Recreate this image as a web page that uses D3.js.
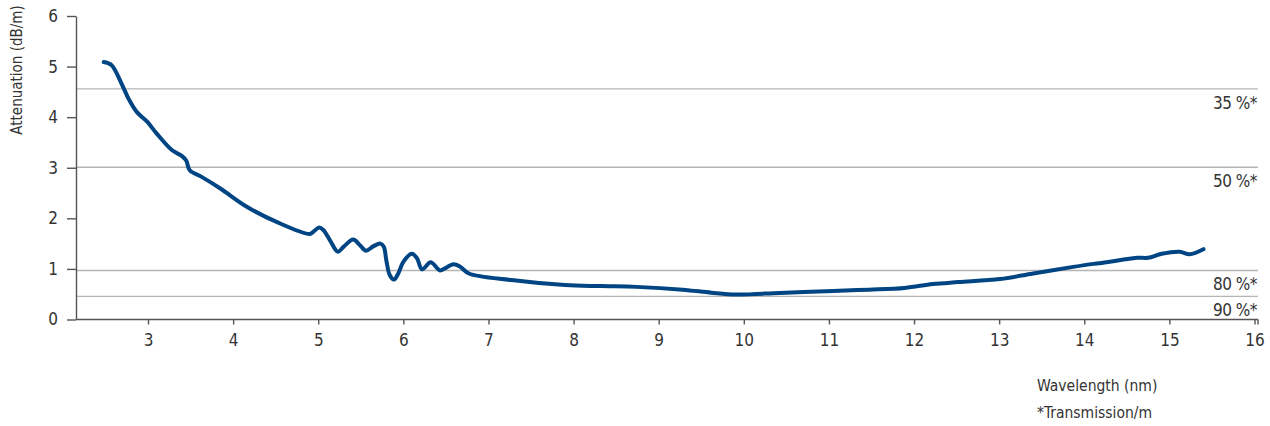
<!DOCTYPE html>
<html>
<head>
<meta charset="utf-8">
<script src="https://cdn.jsdelivr.net/npm/d3@7/dist/d3.min.js"></script>
<style>
  html, body { margin: 0; padding: 0; background: #fff; }
  svg text { font-family: "Liberation Sans Narrow", "DejaVu Sans Condensed", "Roboto Condensed", sans-serif; fill: #333; }
</style>
</head>
<body>
<svg id="chart" width="1270" height="426"></svg>
<script>
// Measured attenuation spectrum
const wavelength = [
  2.48, 2.57, 2.69, 2.77, 2.87, 2.99, 3.10, 3.28, 3.40, 3.45, 3.49, 3.63, 3.85, 4.16, 4.51,
  4.90, 4.94, 5.01, 5.06, 5.14, 5.23, 5.30, 5.41, 5.49, 5.56, 5.65, 5.73, 5.77, 5.80, 5.84,
  5.89, 5.94, 6.00, 6.10, 6.16, 6.22, 6.32, 6.40, 6.43, 6.59, 6.67, 6.77, 7.27, 7.90, 8.32,
  8.74, 9.28, 9.62, 9.91, 10.42, 11.05, 11.47, 11.89, 12.22, 12.52, 13.01, 13.40, 13.87, 14.11,
  14.30, 14.48, 14.62, 14.75, 14.91, 15.12, 15.24, 15.40
];
const attenuation = [
  5.09, 5.03, 4.66, 4.37, 4.10, 3.91, 3.68, 3.35, 3.23, 3.14, 2.95, 2.82, 2.59, 2.23, 1.93,
  1.69, 1.73, 1.82, 1.77, 1.56, 1.34, 1.44, 1.58, 1.47, 1.36, 1.45, 1.50, 1.44, 1.17, 0.88,
  0.79, 0.91, 1.14, 1.30, 1.21, 0.99, 1.13, 1.01, 0.97, 1.09, 1.04, 0.91, 0.78, 0.68, 0.66,
  0.645, 0.59, 0.53, 0.495, 0.525, 0.565, 0.59, 0.625, 0.70, 0.74, 0.80, 0.91, 1.04, 1.10,
  1.14, 1.19, 1.22, 1.22, 1.30, 1.34, 1.29, 1.39
];

// Reference transmission levels per metre
const transmission = [0.35, 0.50, 0.80, 0.90];
const transmissionLabels = ["35 %*", "50 %*", "80 %*", "90 %*"];

const xTicks = [3, 4, 5, 6, 7, 8, 9, 10, 11, 12, 13, 14, 15, 16];
const yTicks = [0, 1, 2, 3, 4, 5, 6];

const svg = d3.select("#chart");
const plotLeft = 76, plotRight = 1258, plotTop = 16, plotBottom = 319.5;

const x = d3.scaleLinear().domain([2.154, 16]).range([plotLeft, 1254.5]);
const y = d3.scaleLinear().domain([0, 6]).range([plotBottom, plotTop]);

// Attenuation in dB/m for a given transmission per metre
const toDb = t => -10 * Math.log10(t);

// Transmission reference lines
const grid = svg.append("g");
grid.selectAll("line").data(transmission).join("line")
  .attr("x1", plotLeft).attr("x2", plotRight)
  .attr("y1", d => y(toDb(d))).attr("y2", d => y(toDb(d)))
  .attr("stroke", "#b5b5b5").attr("stroke-width", 1.4);
grid.selectAll("text").data(transmission).join("text")
  .attr("x", plotRight - 1)
  .attr("y", d => y(toDb(d)) + 20)
  .attr("text-anchor", "end")
  .attr("font-size", 17)
  .attr("letter-spacing", -0.5)
  .text((d, i) => transmissionLabels[i]);

// Axes
const xAxis = svg.append("g").attr("transform", `translate(0,${plotBottom})`)
  .call(d3.axisBottom(x).tickValues(xTicks).tickFormat(d3.format("d")).tickSizeInner(5).tickSizeOuter(0).tickPadding(9));
xAxis.select(".domain").attr("d", `M${plotLeft},0H${plotRight}`);
xAxis.append("line").attr("x1", plotRight).attr("x2", plotRight).attr("y1", 0).attr("y2", 5);

const yAxis = svg.append("g").attr("transform", `translate(${plotLeft},0)`)
  .call(d3.axisLeft(y).tickValues(yTicks).tickFormat(d3.format("d")).tickSizeInner(9).tickSizeOuter(0).tickPadding(9));

svg.selectAll(".domain, .tick line").attr("stroke", "#555").attr("stroke-width", 1.4);
xAxis.selectAll("line").attr("stroke", "#555").attr("stroke-width", 1.4);
svg.selectAll(".tick text").attr("font-size", 17).attr("fill", "#333")
  .style("font-family", "'Liberation Sans Narrow', 'DejaVu Sans Condensed', sans-serif");

// Axis titles
svg.append("text")
  .attr("transform", "translate(22,70) rotate(-90)")
  .attr("text-anchor", "middle")
  .attr("font-size", 15)
  .text("Attenuation (dB/m)");
svg.append("text").attr("x", 1037).attr("y", 391).attr("font-size", 15.5).text("Wavelength (nm)");
svg.append("text").attr("x", 1037).attr("y", 418).attr("font-size", 15.5).text("*Transmission/m");

// Attenuation curve
const pts = wavelength.map((w, i) => [w, attenuation[i]]);
svg.append("path")
  .datum(pts)
  .attr("fill", "none")
  .attr("stroke", "#004583")
  .attr("stroke-width", 4)
  .attr("stroke-linejoin", "round")
  .attr("stroke-linecap", "round")
  .attr("d", d3.line().x(d => x(d[0])).y(d => y(d[1])).curve(d3.curveCatmullRom.alpha(0.5)));
</script>
</body>
</html>
